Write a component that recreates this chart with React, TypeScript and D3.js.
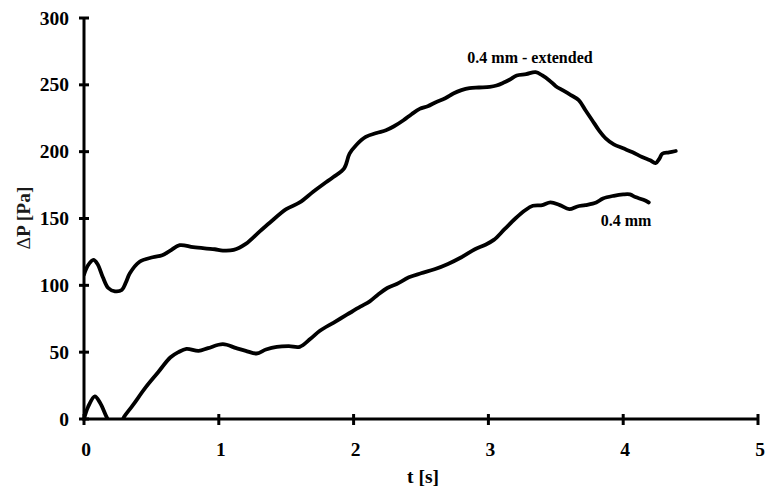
import React from "react";
import * as d3 from "d3";

const xTicks = [0, 1, 2, 3, 4, 5];
const yTicks = [0, 50, 100, 150, 200, 250, 300];

const lowerT = [0,0.03,0.08,0.12,0.17,0.22,0.27,0.3,0.36,0.46,0.55,0.64,0.7,0.76,0.85,0.92,1.03,1.13,1.2,1.28,1.35,1.43,1.52,1.6,1.68,1.75,1.85,1.95,2.05,2.12,2.18,2.25,2.32,2.41,2.5,2.6,2.7,2.8,2.9,2.97,3.04,3.12,3.2,3.27,3.33,3.4,3.46,3.53,3.6,3.66,3.72,3.8,3.85,3.93,4.0,4.05,4.09,4.15,4.19];
const lowerP = [0,9,17,12,1,-8,-4,2,10,24,35,46,50,52.5,51,53,56,53,51,49,52,54,54.5,54,60,66,72,78,84,88,93,98,101,106,109,112,116,121,127,130,134,142,150,156,159.5,160,162,160,157,159,160,162,165,167,168,168,166,164,162];

const upperT = [0,0.03,0.07,0.1,0.14,0.18,0.23,0.28,0.31,0.34,0.41,0.51,0.58,0.64,0.71,0.81,0.91,0.97,1.03,1.11,1.2,1.3,1.38,1.5,1.6,1.7,1.78,1.85,1.93,1.97,2.02,2.09,2.17,2.24,2.3,2.37,2.43,2.49,2.55,2.61,2.68,2.74,2.8,2.86,2.93,3.01,3.06,3.11,3.16,3.21,3.28,3.35,3.4,3.45,3.5,3.55,3.6,3.67,3.72,3.77,3.82,3.87,3.93,4.0,4.07,4.14,4.2,4.24,4.27,4.29,4.34,4.39];
const upperP = [108,115,119,116,106,98,95.5,96.5,102,109,117.5,121,122.5,126,130,128.5,127.5,127,126,126.5,131,140,147,157,162,170,176,181,187.5,198.5,205,211,214,216,219,223.5,228,232,234,237,240,243.5,246,247.5,248,248.5,249.5,251.5,254,257,258,259.5,257,253.5,249,246,243,238.5,231,223.5,216,210,205.5,202.5,199.5,196,193.5,191.5,195,198.5,199.5,200.5];

const seriesLabels = ["0.4 mm", "0.4 mm - extended"];

export default function App() {
  const W = 765, H = 493;
  const x0 = 84, x1 = 758, y0 = 419, y1 = 18;
  const x = d3.scaleLinear().domain([0, 5]).range([x0, x1]);
  const y = d3.scaleLinear().domain([0, 300]).range([y0, y1]);
  const line = d3.line<[number, number]>().x(d => x(d[0])).y(d => y(d[1])).curve(d3.curveCatmullRom.alpha(0.5));
  const lower = lowerT.map((t, i) => [t, lowerP[i]] as [number, number]);
  const upper = upperT.map((t, i) => [t, upperP[i]] as [number, number]);
  const font = "'Liberation Serif', 'Times New Roman', serif";
  const fs = 19.5;
  return (
    <svg width={W} height={H} style={{ position: "absolute", left: 0, top: 0, background: "#fff" }} fontFamily={font}>
      <defs>
        <clipPath id="plot">
          <rect x={x0} y={y1 - 5} width={x1 - x0 + 10} height={y0 - y1 + 5} />
        </clipPath>
      </defs>
      <g clipPath="url(#plot)" fill="none" stroke="#000" strokeWidth={3.8} strokeLinejoin="round" strokeLinecap="round">
        <path d={line(lower) || ""} />
        <path d={line(upper) || ""} />
      </g>
      <line x1={x0} x2={x0} y1={y1} y2={y0 + 1.5} stroke="#000" strokeWidth={3} />
      <line x1={x0 - 1.5} x2={x1} y1={y0} y2={y0} stroke="#000" strokeWidth={3} />
      {yTicks.map(v => (
        <g key={"y" + v}>
          <line x1={x0 - 5} x2={x0 + 5} y1={y(v)} y2={y(v)} stroke="#000" strokeWidth={3} />
          <text x={69} y={y(v)} dy="0.34em" textAnchor="end" fontSize={fs} fontWeight="bold">{v}</text>
        </g>
      ))}
      {xTicks.map(v => (
        <g key={"x" + v}>
          <line x1={x(v)} x2={x(v)} y1={y0 - 5} y2={y0 + 6} stroke="#000" strokeWidth={3} />
          <text x={x(v) + 2} y={456} textAnchor="middle" fontSize={fs} fontWeight="bold">{v}</text>
        </g>
      ))}
      <text x={423} y={483} textAnchor="middle" fontSize={fs} fontWeight="bold">t [s]</text>
      <text transform="translate(30,218) rotate(-90)" textAnchor="middle" fontSize={fs} fontWeight="bold" fill="#1a1a1a">
        <tspan fontWeight="normal">Δ</tspan>P [Pa]
      </text>
      <text x={530} y={63} textAnchor="middle" fontSize={16} fontWeight="bold">{seriesLabels[1]}</text>
      <text x={626} y={226} textAnchor="middle" fontSize={16} fontWeight="bold">{seriesLabels[0]}</text>
    </svg>
  );
}
